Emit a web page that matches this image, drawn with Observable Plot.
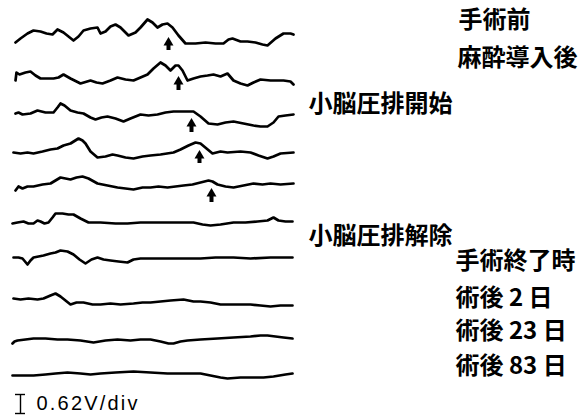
<!DOCTYPE html>
<html>
<head>
<meta charset="utf-8">
<script src="https://cdn.jsdelivr.net/npm/d3@7"></script>
<script src="https://cdn.jsdelivr.net/npm/@observablehq/plot@0.6"></script>
<style>
  html, body { margin: 0; padding: 0; background: #fff; }
  #chart { width: 581px; height: 417px; }
</style>
</head>
<body>
<div id="chart"></div>
<script>
// ---- data: each trace = [sample, amplitude] pairs (amplitude relative to its own baseline, up = positive)
const trace1 = [[3,-6],[8,-2],[15,3],[21,6],[28,5],[34,3],[40,2],[45,7],[51,4],[61,-4],[66,0],[71,6],[78,8],[85,9],[88,3],[93,5],[98,10],[103,12],[108,9],[116,1],[123,4],[128,9],[135,17],[140,14],[145,9],[150,12],[155,13],[160,9],[166,1],[173,-7],[183,-7],[193,-6],[203,-7],[211,-7],[216,-3],[220,-2],[228,-5],[235,-5],[243,-6],[250,-8],[255,-9],[263,-2],[271,3],[278,3],[281,2]];
const trace2 = [[3,-2],[4,6],[7,4],[13,6],[18,7],[23,3],[28,0],[35,0],[41,0],[46,1],[51,4],[58,0],[68,-5],[78,-2],[84,-4],[90,-5],[98,-2],[105,1],[113,-1],[121,-2],[128,1],[135,4],[141,10],[148,16],[153,13],[158,8],[163,13],[166,13],[170,8],[175,-2],[181,0],[188,2],[195,3],[201,4],[208,2],[215,5],[221,-2],[228,-5],[235,-7],[241,-4],[248,-1],[258,-2],[271,-2],[278,-3],[281,-6]];
const trace3 = [[3,1],[6,2],[10,0],[18,1],[25,4],[33,2],[41,2],[45,7],[48,11],[52,9],[58,4],[65,2],[71,1],[78,-3],[83,-5],[89,-3],[95,-2],[103,-4],[111,-7],[118,-4],[128,0],[136,-1],[145,0],[153,2],[161,3],[171,3],[181,3],[188,-2],[196,-9],[205,-10],[213,-8],[221,-7],[231,-9],[241,-11],[248,-12],[255,-12],[261,-8],[266,-2],[273,-1],[281,0]];
const trace4 = [[1,0],[8,-1],[15,0],[21,-1],[30,1],[38,3],[45,4],[51,7],[58,9],[66,14],[70,12],[73,9],[78,1],[85,-5],[93,-4],[100,-2],[105,-3],[113,-5],[121,-6],[130,-4],[138,-3],[148,-2],[161,0],[168,3],[176,7],[183,10],[188,9],[194,4],[200,-1],[208,1],[215,0],[228,1],[238,0],[246,-3],[255,-6],[261,-4],[268,-1],[281,0]];
const trace5 = [[3,-5],[6,-1],[10,-3],[15,-1],[21,-1],[30,1],[38,2],[43,5],[48,8],[53,7],[58,6],[64,8],[70,9],[76,7],[85,2],[95,0],[105,-2],[113,-3],[121,-4],[130,-2],[138,-2],[146,-1],[155,-2],[163,-1],[171,0],[180,1],[188,3],[196,5],[200,4],[205,1],[213,-1],[221,-2],[231,0],[241,2],[250,1],[258,2],[268,1],[281,2]];
const trace6 = [[0,-2],[5,-1],[11,0],[16,-2],[21,-2],[25,1],[28,0],[32,-2],[36,-1],[40,4],[43,8],[50,8],[56,7],[61,7],[68,3],[76,-1],[88,-1],[103,-2],[115,-2],[128,-1],[141,-1],[155,-1],[168,-1],[181,-1],[190,-3],[198,-4],[208,-3],[221,-1],[233,-1],[245,0],[255,1],[261,4],[266,1],[273,0],[280,0]];
const trace7 = [[1,1],[6,1],[10,0],[15,-6],[18,-2],[21,1],[26,2],[31,3],[38,5],[43,6],[48,8],[55,7],[61,4],[67,-1],[73,-5],[79,-1],[85,1],[91,-1],[98,-2],[106,-3],[115,-4],[121,-1],[128,0],[148,0],[168,0],[188,0],[203,1],[221,1],[238,0],[258,1],[280,1]];
const trace8 = [[1,4],[8,3],[16,4],[25,3],[31,4],[38,7],[43,9],[48,6],[53,2],[58,-2],[64,0],[71,0],[80,-2],[88,-2],[98,-1],[108,-2],[121,-1],[130,0],[138,0],[148,1],[158,2],[171,3],[181,1],[188,1],[198,0],[208,-2],[223,-2],[238,-2],[248,-3],[258,-4],[268,-3],[280,-3]];
const trace9 = [[0,-4],[2,-2],[5,-1],[13,0],[21,1],[33,1],[45,0],[55,0],[68,-1],[81,-3],[93,-1],[105,0],[118,-1],[128,0],[138,0],[148,-2],[156,-4],[161,-4],[168,-2],[175,-1],[188,0],[205,1],[221,2],[238,3],[248,4],[255,4],[263,3],[271,2],[280,1]];
const trace10 = [[0,-1],[8,-1],[21,-1],[33,0],[43,1],[55,2],[68,1],[78,0],[88,1],[103,2],[121,3],[138,2],[155,1],[171,1],[188,1],[198,-1],[208,-3],[215,-4],[228,-3],[241,-3],[251,-3],[261,-2],[273,0],[280,1]];

const traces = [trace1, trace2, trace3, trace4, trace5, trace6, trace7, trace8, trace9, trace10];
const baselines = [36, 78, 114, 152, 185, 221, 258, 302, 339, 374]; // vertical offset of each trace (units below top)

// peak markers: [trace index, sample, tip amplitude, tail amplitude]
const arrows = [[0,156,-1,-14],[1,166,2,-12],[2,179,-4,-18],[3,187,2,-11],[4,199,-3,-17]];

// labels: [text, trace index, sample, amplitude offset]
const labelText   = ["手術前", "麻酔導入後", "小脳圧排開始", "小脳圧排解除", "手術終了時", "術後 2 日", "術後 23 日", "術後 83 日"];
const labelTrace  = [0, 1, 2, 5, 6, 7, 8, 9];
const labelSample = [446, 445, 296, 296, 443, 443, 443, 443];
const labelOffset = [16, 20, 10, -15, -3, 4, 8, 8];

// scale bar: 0.62 V per division, one division = 19 amplitude units
const scaleText = "0.62V/div";
const scaleDiv = 19;
const scaleSample = 8;
const scaleTop = -20; // relative to last trace baseline

// ---- build tables
const lineData = traces.flatMap((tr, i) => tr.map(([t, a]) => ({trace: i, t, y: a - baselines[i]})));
const arrowData = arrows.map(([i, t, tip, tail]) => ({t, tip: tip - baselines[i], tail: tail - baselines[i]}));
const labelData = labelText.map((text, k) => ({text, t: labelSample[k], y: labelOffset[k] - baselines[labelTrace[k]]}));
const sbTop = scaleTop - baselines[9];
const sbBot = sbTop - scaleDiv;

const chart = Plot.plot({
  width: 581,
  height: 417,
  margin: 0,
  x: {domain: [0, 282], range: [12, 294], axis: null},
  y: {domain: [-417, 0], axis: null},
  style: {background: "#fff"},
  marks: [
    Plot.line(lineData, {x: "t", y: "y", z: "trace", stroke: "#000", strokeWidth: 2.7, strokeLinejoin: "round", strokeLinecap: "round"}),
    Plot.ruleX(arrowData, {x: "t", y1: "tail", y2: d => d.tip - 5, stroke: "#000", strokeWidth: 4}),
    Plot.dot(arrowData, {x: "t", y: d => d.tip - 5.2, symbol: "triangle", r: 3.7, fill: "#000", stroke: "none"}),
    Plot.text(labelData, {x: "t", y: "y", text: "text", textAnchor: "start", fontSize: 24, fontWeight: "bold", fontFamily: "'Noto Sans CJK JP', sans-serif", fill: "#000"}),
    Plot.ruleX([{t: scaleSample}], {x: "t", y1: sbBot, y2: sbTop, stroke: "#000", strokeWidth: 1.4}),
    Plot.ruleY([sbTop, sbBot], {y: d => d, x1: scaleSample - 5, x2: scaleSample + 5, stroke: "#000", strokeWidth: 1.4}),
    Plot.text([scaleText], {x: scaleSample + 16, y: (sbTop + sbBot) / 2, text: d => d, textAnchor: "start", fontSize: 20, fontFamily: "'Liberation Sans', Arial, sans-serif", fill: "#000"})
  ]
});
document.getElementById("chart").appendChild(chart);
d3.select(chart).selectAll("text").filter(function() { return this.textContent === scaleText; })
  .attr("letter-spacing", "2.2px").style("letter-spacing", "2.2px");
</script>
</body>
</html>
